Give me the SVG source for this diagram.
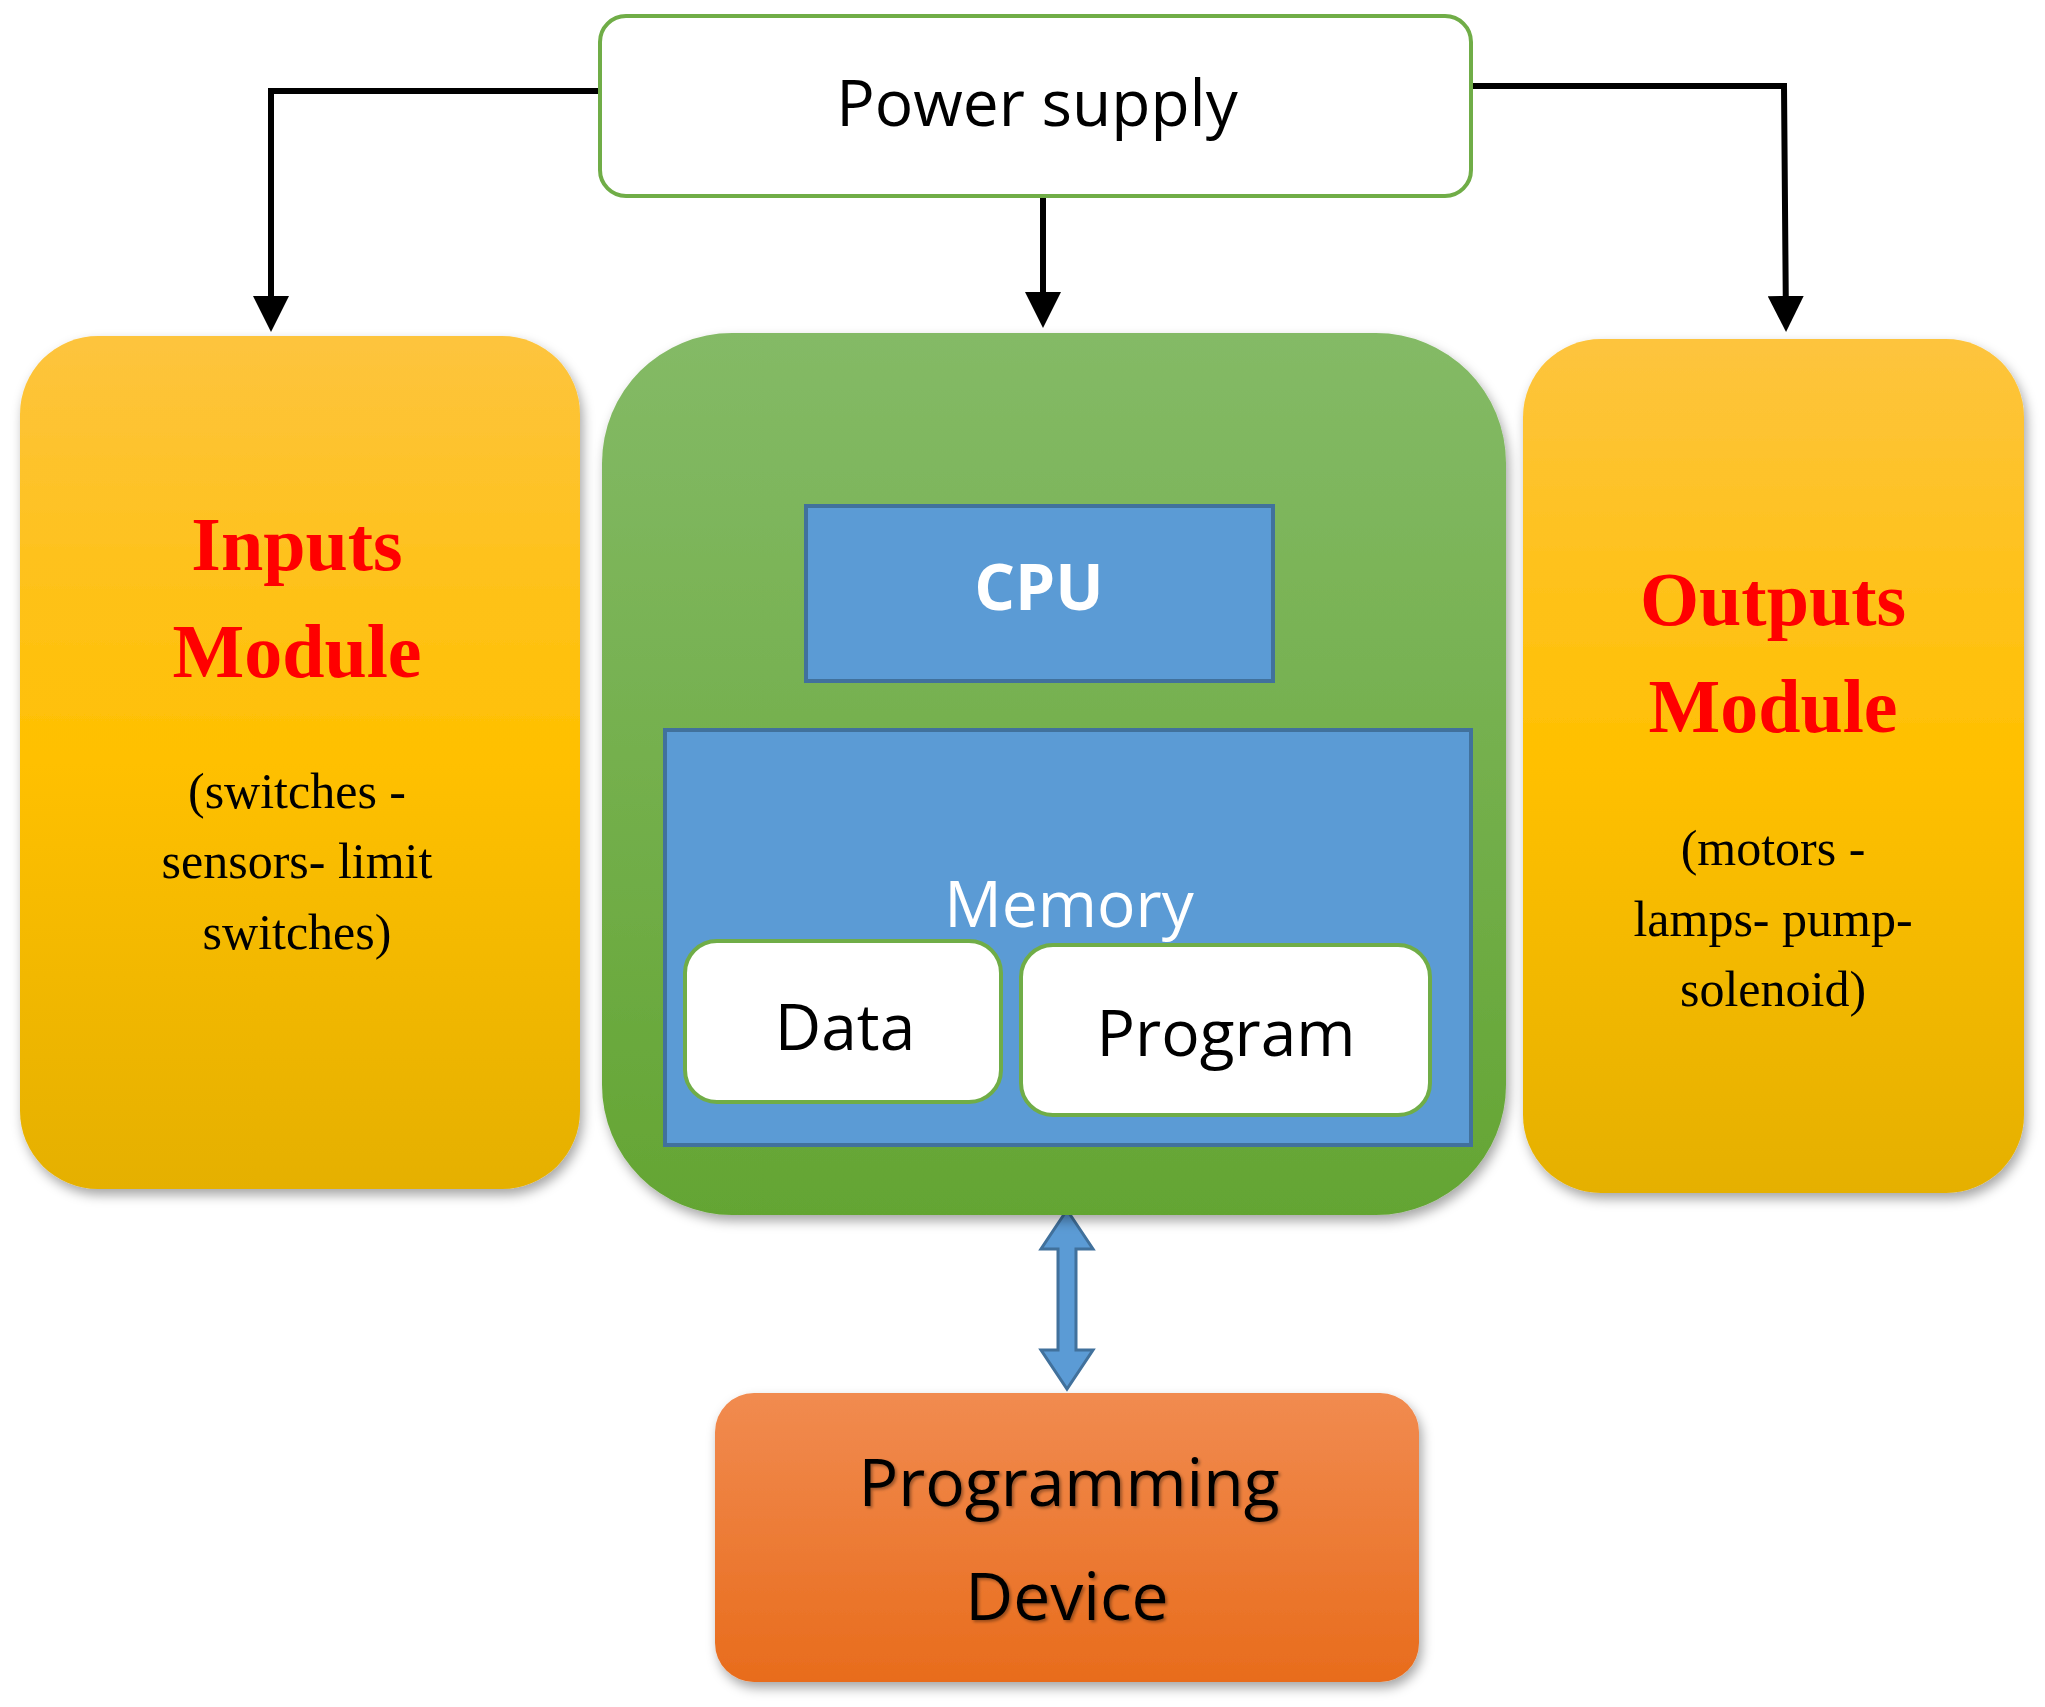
<svg xmlns="http://www.w3.org/2000/svg" width="2045" height="1707" viewBox="0 0 2045 1707">
<style>
.ln{fill:none;stroke:#000;stroke-width:6}
.sans{font-family:"Open Sans","Noto Sans",sans-serif;text-anchor:middle}
.ser{font-family:"Liberation Serif",serif;text-anchor:middle}
.title{font-size:76px;font-weight:bold;fill:#FF0000}
.sub{font-size:50px;fill:#000}
.wbox{fill:#fff;stroke:#70AD47;stroke-width:4}
.blue{fill:#5B9BD5;stroke:#41719C;stroke-width:4}
</style>
<defs>
<marker id="ah" markerWidth="6" markerHeight="6" refX="5" refY="3" orient="auto" markerUnits="strokeWidth"><path d="M0,0L6,3L0,6z" fill="#000"/></marker>
<linearGradient id="gy" x1="0" y1="0" x2="0" y2="1"><stop offset="0" stop-color="#FDC43E"/><stop offset="0.5" stop-color="#FFC000"/><stop offset="1" stop-color="#E5B000"/></linearGradient>
<linearGradient id="gg" x1="0" y1="0" x2="0" y2="1"><stop offset="0" stop-color="#84BA66"/><stop offset="1" stop-color="#64A533"/></linearGradient>
<linearGradient id="go" x1="0" y1="0" x2="0" y2="1"><stop offset="0" stop-color="#F18B50"/><stop offset="1" stop-color="#E86C1C"/></linearGradient>
<filter id="sh" x="-10%" y="-10%" width="120%" height="120%"><feDropShadow dx="3" dy="6" stdDeviation="6" flood-opacity="0.35"/></filter>
<filter id="ts"><feDropShadow dx="2" dy="2" stdDeviation="1.5" flood-opacity="0.35"/></filter>
</defs>
<rect width="2045" height="1707" fill="#fff"/>
<g id="connectors">
<path class="ln" d="M600,91H271V326" marker-end="url(#ah)"/>
<path class="ln" d="M1043,193V322" marker-end="url(#ah)"/>
<path class="ln" d="M1471,86H1784L1786,326" marker-end="url(#ah)"/>
<path d="M1067,1210L1093,1249H1076V1350H1093L1067,1389L1041,1350H1058V1249H1041Z" fill="#5B9BD5" stroke="#41719C" stroke-width="3"/>
</g>
<g id="power"><rect x="600" y="16" width="871" height="180" rx="26" class="wbox"/><text x="1037" y="126" class="sans" font-size="64">Power supply</text></g>
<g id="inputs"><rect x="20" y="336" width="560" height="853" rx="78" fill="url(#gy)" filter="url(#sh)"/>
<text x="297" y="570" class="ser title">Inputs</text><text x="297" y="677" class="ser title">Module</text>
<text x="297" y="808" class="ser sub">(switches -</text><text x="297" y="878" class="ser sub">sensors- limit</text><text x="297" y="949" class="ser sub">switches)</text></g>
<g id="plc"><rect x="602" y="333" width="904" height="882" rx="130" fill="url(#gg)" filter="url(#sh)"/></g>
<g id="cpu"><rect x="806" y="506" width="467" height="175" class="blue"/><text x="1039" y="610" class="sans" font-size="64" font-weight="bold" fill="#fff">CPU</text></g>
<g id="memory"><rect x="665" y="730" width="806" height="415" class="blue"/><text x="1069" y="927" class="sans" font-size="64" fill="#fff">Memory</text></g>
<g id="data"><rect x="685" y="941" width="316" height="161" rx="32" class="wbox"/><text x="845" y="1050" class="sans" font-size="64">Data</text></g>
<g id="program"><rect x="1021" y="945" width="409" height="170" rx="32" class="wbox"/><text x="1226" y="1056" class="sans" font-size="64">Program</text></g>
<g id="outputs"><rect x="1523" y="339" width="501" height="854" rx="78" fill="url(#gy)" filter="url(#sh)"/>
<text x="1773" y="625" class="ser title">Outputs</text><text x="1773" y="732" class="ser title">Module</text>
<text x="1773" y="865" class="ser sub">(motors -</text><text x="1773" y="936" class="ser sub">lamps- pump-</text><text x="1773" y="1006" class="ser sub">solenoid)</text></g>
<g id="progdev"><rect x="715" y="1393" width="704" height="289" rx="39" fill="url(#go)" filter="url(#sh)"/>
<text x="1069" y="1506" class="sans" font-size="66" filter="url(#ts)">Programming</text><text x="1067" y="1620" class="sans" font-size="66" filter="url(#ts)">Device</text></g>
</svg>
